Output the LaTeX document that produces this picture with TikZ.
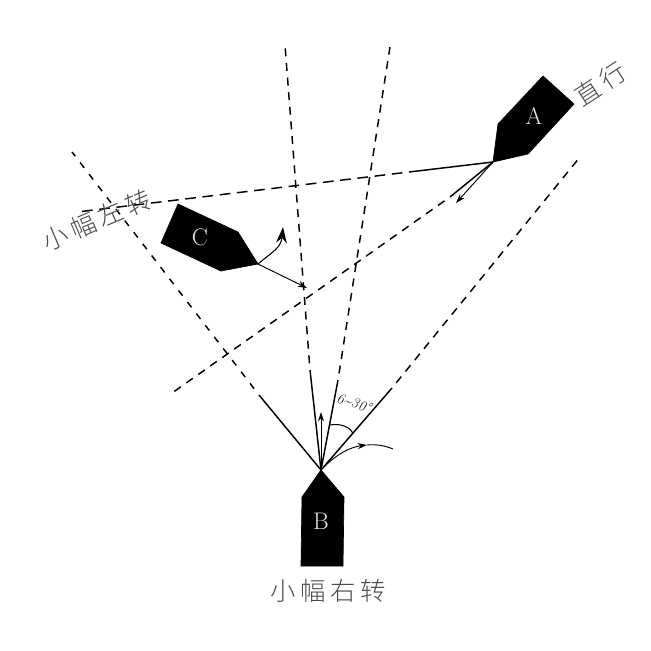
\documentclass[tikz,border=0pt]{standalone}
\usepackage{fontspec}
\newfontfamily\cjk{Noto Sans CJK SC Light}
\usepackage{tikz}
\usetikzlibrary{arrows.meta}
\usetikzlibrary{calc}
\tikzset{%
  hullcol/.style={fill=black,draw=black,line width=0.5pt,line join=round},
  shiplabel/.style={text=white!90!black,font=\fontsize{18}{18}\selectfont},
  zhlabel/.style={text=black!70,font=\cjk\fontsize{19}{19}\selectfont},
  solidline/.style={line width=1.1pt},
  dashline/.style={line width=1.1pt,dash pattern=on 6pt off 5pt,dash phase=6pt},
  arrowline/.style={line width=0.7pt,-{Stealth[length=7pt,width=4.5pt]}}
}
\begin{document}
\begin{tikzpicture}[x=0.75pt,y=-0.75pt]
    \useasboundingbox (0,0) rectangle (651,651);
    \coordinate (tipb) at (321,470);
    \coordinate (tipa) at (493,162);
    \coordinate (tipc) at (258,264);
    % hulls
    \fill[hullcol] (tipb)--(344,497)--(343,566)--(301,566)--(302,497)--cycle;
    \fill[hullcol] (tipa)--(498,124)--(543,76)--(574,104)--(528,154)--cycle;
    \fill[hullcol] (tipc)--(238,232)--(178,204)--(161,243)--(221,271)--cycle;
    \node[shiplabel](shipb) at (321,521){B};
    \node[shiplabel](shipa) at (534,116){A};
    \node[shiplabel](shipc) at (200,237){C};
    % lines from B
    \coordinate (b1s) at (259,395);
    \coordinate (b1e) at (72,152);
    \coordinate (b2s) at (310,370);
    \coordinate (b2e) at (285,45);
    \coordinate (b3s) at (338,380);
    \coordinate (b3e) at (390,47);
    \coordinate (b4s) at (392,388);
    \coordinate (b4e) at (580,157);
    \draw[solidline] (tipb)--(b1s);
    \draw[dashline,dash pattern=on 5pt off 6pt,dash phase=5pt] (b1s)--(b1e);
    \draw[solidline] (tipb)--(b2s);
    \draw[dashline] (b2s)--(b2e);
    \draw[solidline] (tipb)--(b3s);
    \draw[dashline] (b3s)--(b3e);
    \draw[solidline] (tipb)--(b4s);
    \draw[dashline] (b4s)--(b4e);
    % lines from A
    \coordinate (a1s) at (409,172);
    \coordinate (a1e) at (77,212);
    \coordinate (a2s) at (450,197);
    \coordinate (a2e) at (172,393);
    \draw[solidline] (tipa)--(a1s);
    \draw[dashline,dash pattern=on 8pt off 5pt,dash phase=8pt] (a1s)--(a1e);
    \draw[solidline] (tipa)--(a2s);
    \draw[dashline] (a2s)--(a2e);
    % arrows
    \coordinate (arra) at (456,203);
    \coordinate (arrb) at (321,412);
    \coordinate (arrc) at (307,288);
    \draw[arrowline] (tipa)--(arra);
    \draw[arrowline] (tipb)--(arrb);
    \draw[arrowline] (tipc)--(arrc);
    \coordinate (curvb) at (367,445);
    \coordinate (endb) at (393,449);
    \coordinate (endc) at (283,227);
    \draw[arrowline] (tipb) .. controls (335,455) and (350,447) .. (curvb);
    \draw[line width=0.7pt] (curvb) .. controls (377,444) and (386,446) .. (endb);
    \draw[line width=0.8pt,-{Stealth[length=12pt,width=8pt]}] (tipc) .. controls (272,252) and (281,248) .. (endc);
    % angle
    \coordinate (arcs) at (330,425);
    \coordinate (arce) at (353,434);
    \draw[line width=0.8pt] (arcs) .. controls (340,423) and (351,427) .. (arce);
    \node[rotate=-17,text=black!85,font=\itshape\fontsize{11}{11}\selectfont](anglelabel) at (354,403){6\textasciitilde30\textdegree};
    % labels
    \node[zhlabel](labelb) at (328,591){小\hspace{3.5pt}幅\hspace{3.5pt}右\hspace{3.5pt}转};
    \node[zhlabel,rotate=33](labela) at (600,84){直\hspace{3.5pt}行};
    \node[zhlabel,rotate=23](labelc) at (97,220){小\hspace{3.5pt}幅\hspace{3.5pt}左\hspace{3.5pt}转};
\end{tikzpicture}
\end{document}
